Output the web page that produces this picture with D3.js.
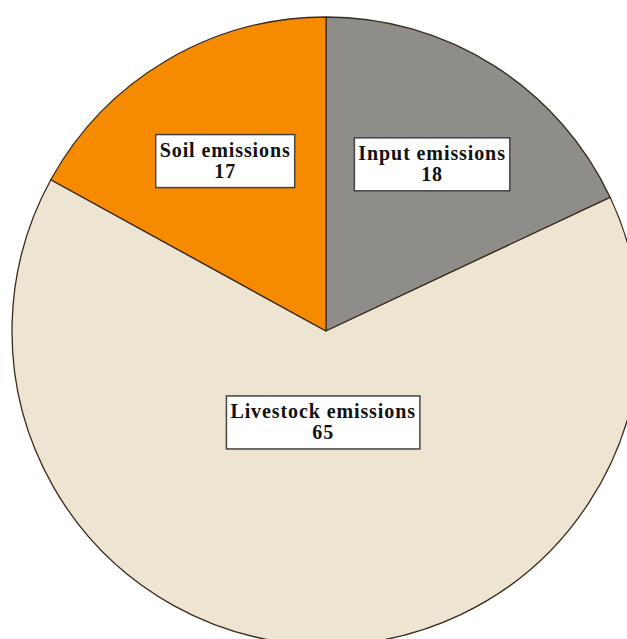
<!DOCTYPE html>
<html>
<head>
<meta charset="utf-8">
<script src="https://cdn.jsdelivr.net/npm/d3@7"></script>
<style>
  body { margin: 0; background: #fff; }
  svg { display: block; }
  .lbl { font-family: "Liberation Serif", "DejaVu Serif", serif; font-weight: bold; fill: #111; }
</style>
</head>
<body>
<svg id="chart" width="627" height="639"></svg>
<script>
// dane wykresu
const kategorie = ["Input emissions", "Livestock emissions", "Soil emissions"];
const wartosci = [18, 65, 17];
const kolory = ["#8f8d8a", "#ede4d2", "#f78b00"];

const WIDTH = 627, HEIGHT = 639;
const cx = 326, cy = 331, R = 314;

const svg = d3.select("#chart");
const g = svg.append("g").attr("transform", `translate(${cx},${cy})`);

const pie = d3.pie().sort(null).value(d => d.v);
const arc = d3.arc().innerRadius(0).outerRadius(R);

const dane = kategorie.map((k, i) => ({ k: k, v: wartosci[i], c: kolory[i] }));
const luki = pie(dane);

// wycinki
g.selectAll("path")
  .data(luki)
  .enter()
  .append("path")
  .attr("d", arc)
  .attr("fill", d => d.data.c)
  .attr("stroke", "#3b2b1e")
  .attr("stroke-width", 1.3)
  .attr("stroke-linejoin", "round");

// etykiety - małe wycinki dalej od środka
function promienEtykiety(d) {
  return (d.endAngle - d.startAngle) > Math.PI ? 91 : 198;
}

const etykiety = g.selectAll("g.lbl")
  .data(luki)
  .enter()
  .append("g")
  .attr("class", "lbl")
  .attr("transform", d => {
    const a = (d.startAngle + d.endAngle) / 2;
    const r = promienEtykiety(d);
    return `translate(${r * Math.sin(a)},${-r * Math.cos(a)})`;
  });

etykiety.each(function(d) {
  const el = d3.select(this);
  const rect = el.append("rect")
    .attr("fill", "#fff")
    .attr("stroke", "#444")
    .attr("stroke-width", 1.5);
  const t = el.append("text")
    .attr("text-anchor", "middle")
    .style("font-size", "20px")
    .style("letter-spacing", "0.9px");
  t.append("tspan").attr("x", 0).attr("y", -4).text(d.data.k);
  t.append("tspan").attr("x", 0).attr("y", 17).text(d.data.v);
  const bb = t.node().getBBox();
  const padX = 4;
  rect.attr("x", bb.x - padX).attr("y", -26)
    .attr("width", bb.width + 2 * padX).attr("height", 53);
});
</script>
</body>
</html>
